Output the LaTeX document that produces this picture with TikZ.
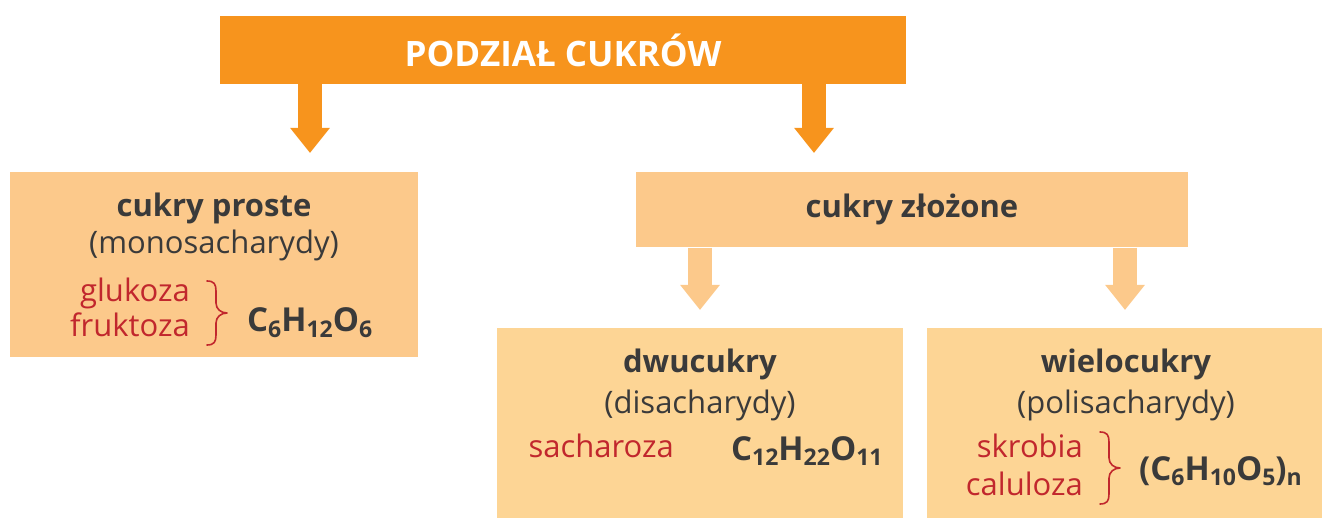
\documentclass[tikz,border=0pt]{standalone}
\usepackage{fontspec}
\setmainfont{Open Sans}
\usetikzlibrary{arrows.meta}

\definecolor{podzial}{HTML}{F7941D}
\definecolor{poziom}{HTML}{FCC98B}
\definecolor{jasny}{HTML}{FDD595}
\definecolor{nazwa}{HTML}{C1272D}
\definecolor{tekst}{HTML}{3A3A3A}

\tikzstyle{glowny}=[fill=podzial, text=white, inner sep=0pt, font=\fontsize{35}{40}\selectfont\bfseries]
\tikzstyle{grupa}=[fill=poziom, inner sep=0pt]
\tikzstyle{podgrupa}=[fill=jasny, inner sep=0pt]
\tikzstyle{naglowek}=[text=tekst, inner sep=0pt, anchor=base, font=\fontsize{31}{36}\selectfont\bfseries]
\tikzstyle{opis}=[text=tekst, inner sep=0pt, anchor=base, font=\fontsize{31}{36}\selectfont]
\tikzstyle{przyklad}=[text=nazwa, inner sep=0pt, anchor=base east, font=\fontsize{31}{36}\selectfont]
\tikzstyle{wzor}=[text=tekst, inner sep=0pt, anchor=base west, font=\fontsize{33}{38}\selectfont\bfseries]
\tikzstyle{strzalka}=[line width=24pt, -{Triangle[width=38pt,length=25pt]}]
\tikzstyle{klamra}=[draw=nazwa, line width=1.6pt, line cap=round, line join=round]

\newcommand{\ind}[1]{\raisebox{-0.28ex}{\fontsize{23}{23}\selectfont #1}}
% klamra: punkt poczatkowy, dlugosc prostego odcinka
\newcommand{\klamraP}[2]{%
  \draw[klamra] (#1) .. controls +(7,0) and +(0,-7) .. ++(9,10) -- ++(0,#2)
    .. controls +(0,6) and +(-6,0) .. ++(11,10)
    .. controls +(-6,0) and +(0,-6) .. ++(-11,10) -- ++(0,#2)
    .. controls +(0,7) and +(7,0) .. ++(-9,10);}

\begin{document}
\begin{tikzpicture}[x=1pt, y=-1pt]
  \useasboundingbox (0,0) rectangle (1322,518);

  % ramki
  \node[glowny, minimum width=686pt, minimum height=68pt] (title) at (563, 50) {PODZIAŁ CUKRÓW};
  \node[grupa, minimum width=408pt, minimum height=185pt] (proste) at (214, 265) {};
  \node[grupa, minimum width=552pt, minimum height=75pt] (zlozone) at (912, 210) {};
  \node[podgrupa, minimum width=406pt, minimum height=200pt] (dwu) at (700, 428) {};
  \node[podgrupa, minimum width=400pt, minimum height=200pt] (wielo) at (1127, 428) {};

  % strzalki
  \coordinate (t1) at (310, 153);
  \coordinate (t2) at (814, 153);
  \coordinate (t3) at (700, 310);
  \coordinate (t4) at (1125, 310);
  \draw[strzalka, podzial] (title.south -| t1) -- (t1);
  \draw[strzalka, podzial] (title.south -| t2) -- (t2);
  \draw[strzalka, poziom] (zlozone.south -| t3) -- (t3);
  \draw[strzalka, poziom] (zlozone.south -| t4) -- (t4);

  % cukry proste
  \node[naglowek] (n1) at (214, 217) {cukry proste};
  \node[opis] (o1) at (214, 254) {(monosacharydy)};
  \node[przyklad] (glu) at (190, 302) {glukoza};
  \node[przyklad] (fru) at (190, 337) {fruktoza};
  \node[wzor] (w1) at (247, 332) {C\ind{6}H\ind{12}O\ind{6}};
  \coordinate (k1) at (207, 281);
  \klamraP{k1}{12}

  % cukry zlozone
  \node[naglowek] (n2) at (912, 218) {cukry złożone};

  % dwucukry
  \node[naglowek] (n3) at (700, 373) {dwucukry};
  \node[opis] (o3) at (700, 413) {(disacharydy)};
  \node[przyklad] (sach) at (674, 457) {sacharoza};
  \node[wzor] (w3) at (731, 460) {C\ind{12}H\ind{22}O\ind{11}};

  % wielocukry
  \node[naglowek] (n4) at (1126, 373) {wielocukry};
  \node[opis] (o4) at (1126, 413) {(polisacharydy)};
  \node[przyklad] (skr) at (1083, 457) {skrobia};
  \node[przyklad] (cel) at (1083, 495) {caluloza};
  \node[wzor] (w4) at (1139, 480) {(C\ind{6}H\ind{10}O\ind{5})\ind{n}};
  \coordinate (k2) at (1100, 432);
  \klamraP{k2}{16}
\end{tikzpicture}
\end{document}
